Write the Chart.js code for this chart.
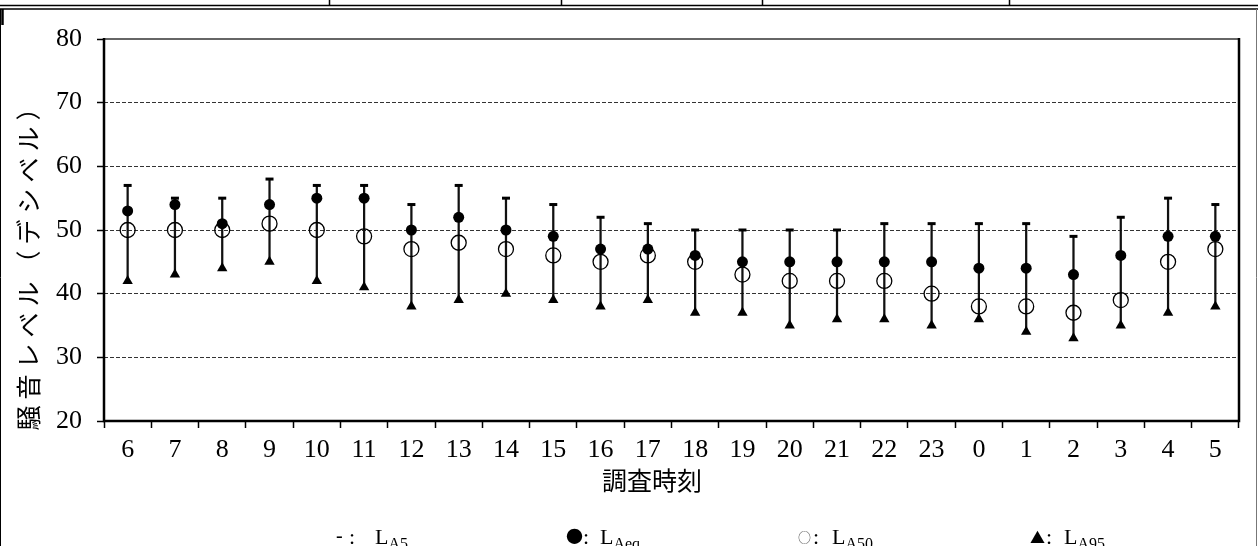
<!DOCTYPE html>
<html lang="ja">
<head>
<meta charset="utf-8">
<title>騒音レベル</title>
<script src="https://cdn.jsdelivr.net/npm/chart.js@4/dist/chart.umd.min.js"></script>
<style>
  html, body { margin: 0; padding: 0; background: #fff; }
  #wrap { position: relative; width: 1258px; height: 546px; }
</style>
</head>
<body>
<div id="wrap"><canvas id="noiseChart" width="1258" height="546"></canvas></div>
<script>
// survey hours (調査時刻)
const hours = ['6', '7', '8', '9', '10', '11', '12', '13', '14', '15', '16', '17',
               '18', '19', '20', '21', '22', '23', '0', '1', '2', '3', '4', '5'];

// LA5 (top of each bar)
const la5  = [57, 55, 55, 58, 57, 57, 54, 57, 55, 54, 52, 51, 50, 50, 50, 50, 51, 51, 51, 51, 49, 52, 55, 54];
// LAeq
const laeq = [53, 54, 51, 54, 55, 55, 50, 52, 50, 49, 47, 47, 46, 45, 45, 45, 45, 45, 44, 44, 43, 46, 49, 49];
// LA50
const la50 = [50, 50, 50, 51, 50, 49, 47, 48, 47, 46, 45, 46, 45, 43, 42, 42, 42, 40, 38, 38, 37, 39, 45, 47];
// LA95 (bottom of each bar)
const la95 = [42, 43, 44, 45, 42, 41, 38, 39, 40, 39, 38, 39, 37, 37, 35, 36, 36, 35, 36, 34, 33, 35, 37, 38];

const yMin = 20;
const yMax = 80;
const yStep = 10;

const numFont = 'Liberation Serif';
const jpFont = '"Noto Sans CJK JP"';

// range bar from LA95 up to LA5
const ranges = hours.map((h, i) => [la95[i], la5[i]]);

// frame, axis lines, titles and legend drawn on the canvas
const decorPlugin = {
  id: 'decor',
  beforeDraw(chart) {
    const ctx = chart.ctx;
    ctx.save();
    ctx.fillStyle = '#fff';
    ctx.fillRect(0, 0, chart.width, chart.height);
    ctx.restore();
  },
  afterDraw(chart) {
    const ctx = chart.ctx;
    const a = chart.chartArea;
    ctx.save();

    // table lines around the figure
    ctx.strokeStyle = '#000';
    ctx.lineWidth = 1.5;
    ctx.beginPath();
    ctx.moveTo(0, 5.5); ctx.lineTo(1258, 5.5);
    ctx.moveTo(0, 9); ctx.lineTo(1258, 9);
    [329.5, 561.5, 762.5, 1009.5].forEach(x => { ctx.moveTo(x, 0); ctx.lineTo(x, 5); });
    ctx.stroke();
    ctx.lineWidth = 1;
    ctx.beginPath();
    ctx.moveTo(0.5, 9); ctx.lineTo(0.5, 546);
    ctx.stroke();
    ctx.lineWidth = 2.5;
    ctx.beginPath();
    ctx.moveTo(2.5, 9); ctx.lineTo(2.5, 25);
    ctx.stroke();
    ctx.strokeStyle = '#777';
    ctx.lineWidth = 1;
    ctx.beginPath();
    ctx.moveTo(1256.5, 9); ctx.lineTo(1256.5, 546);
    ctx.stroke();

    // plot box
    ctx.strokeStyle = '#666';
    ctx.lineWidth = 2;
    ctx.beginPath();
    ctx.moveTo(a.left, a.top); ctx.lineTo(a.right, a.top);
    ctx.stroke();
    ctx.strokeStyle = '#000';
    ctx.lineWidth = 2.5;
    ctx.beginPath();
    ctx.moveTo(a.left, a.top - 1); ctx.lineTo(a.left, a.bottom);
    ctx.lineTo(a.right, a.bottom); ctx.lineTo(a.right, a.top - 1);
    ctx.stroke();

    // axis titles
    ctx.fillStyle = '#000';
    ctx.textAlign = 'center';
    ctx.textBaseline = 'middle';
    ctx.font = '25px ' + jpFont;
    ctx.fillText('調査時刻', 652, 480);

    ctx.translate(28, 260);
    ctx.rotate(-Math.PI / 2);
    ctx.letterSpacing = '6px';
    ctx.fillText('騒音レベル（デシベル）', 0, 0);
    ctx.setTransform(1, 0, 0, 1, 0, 0);
    ctx.letterSpacing = '0px';

    // legend line at the bottom (cut by the page edge, as in the source)
    const base = 544;
    const items = [
      { sym: '-', sx: 336, cx: 349, lx: 375, sub: 'A5', size: 20, font: numFont },
      { sym: '●', sx: 566, cx: 583, lx: 600, sub: 'Aeq', size: 17, font: jpFont },
      { sym: '○', sx: 798, cx: 813, lx: 832, sub: 'A50', size: 13, font: jpFont },
      { sym: '▲', sx: 1030, cx: 1046, lx: 1064, sub: 'A95', size: 15, font: jpFont }
    ];
    ctx.textAlign = 'left';
    items.forEach(it => {
      ctx.textBaseline = 'middle';
      ctx.font = it.size + 'px ' + it.font;
      ctx.fillStyle = it.sym === '○' ? '#555' : '#000';
      ctx.fillText(it.sym, it.sx, 537);
      ctx.fillStyle = '#000';
      ctx.textBaseline = 'alphabetic';
      ctx.font = '22px ' + numFont;
      ctx.fillText(':', it.cx, base);
      ctx.fillText('L', it.lx, base);
      const w = ctx.measureText('L').width;
      ctx.font = '16px ' + numFont;
      ctx.fillText(it.sub, it.lx + w, base + 5);
    });

    ctx.restore();
  }
};

const ctx = document.getElementById('noiseChart').getContext('2d');

new Chart(ctx, {
  type: 'bar',
  data: {
    labels: hours,
    datasets: [
      {
        label: 'range',
        data: ranges,
        backgroundColor: '#111',
        borderWidth: 0,
        barThickness: 1.6,
        order: 10
      },
      {
        type: 'line',
        label: 'LA5',
        data: la5,
        showLine: false,
        pointStyle: 'line',
        pointRadius: 4,
        pointHoverRadius: 4,
        pointBorderWidth: 3,
        pointBorderColor: '#000',
        order: 4
      },
      {
        type: 'line',
        label: 'LA50',
        data: la50,
        showLine: false,
        pointStyle: 'circle',
        pointRadius: 7.5,
        pointHoverRadius: 7.5,
        pointBorderWidth: 1.3,
        pointBorderColor: '#000',
        pointBackgroundColor: 'rgba(0,0,0,0)',
        order: 3
      },
      {
        type: 'line',
        label: 'LAeq',
        data: laeq,
        showLine: false,
        pointStyle: 'circle',
        pointRadius: 5.5,
        pointHoverRadius: 5.5,
        pointBorderWidth: 0,
        pointBackgroundColor: '#000',
        order: 2
      },
      {
        type: 'line',
        label: 'LA95',
        data: la95,
        showLine: false,
        pointStyle: 'triangle',
        pointRadius: 6,
        pointHoverRadius: 6,
        pointBorderWidth: 0,
        pointBackgroundColor: '#000',
        order: 1
      }
    ]
  },
  options: {
    responsive: false,
    animation: false,
    layout: { padding: { left: 0, top: 39, right: 19, bottom: 0 } },
    plugins: {
      legend: { display: false },
      tooltip: { enabled: false }
    },
    scales: {
      x: {
        offset: true,
        grid: {
          offset: true,
          drawOnChartArea: false,
          tickLength: 7,
          tickColor: '#000',
          tickWidth: 1.5
        },
        border: { display: false },
        ticks: {
          autoSkip: false,
          maxRotation: 0,
          color: '#000',
          padding: 7,
          font: { family: numFont, size: 26 }
        },
        afterFit: scale => { scale.height = 125; }
      },
      y: {
        min: yMin,
        max: yMax,
        grid: {
          color: '#333',
          lineWidth: 1,
          tickLength: 7,
          tickColor: '#000',
          tickWidth: 1.5,
          tickBorderDash: []
        },
        border: { display: false, dash: [4, 2] },
        ticks: {
          stepSize: yStep,
          color: '#000',
          padding: 15,
          font: { family: numFont, size: 26 }
        },
        afterFit: scale => { scale.width = 104; }
      }
    }
  },
  plugins: [decorPlugin]
});
</script>
</body>
</html>
